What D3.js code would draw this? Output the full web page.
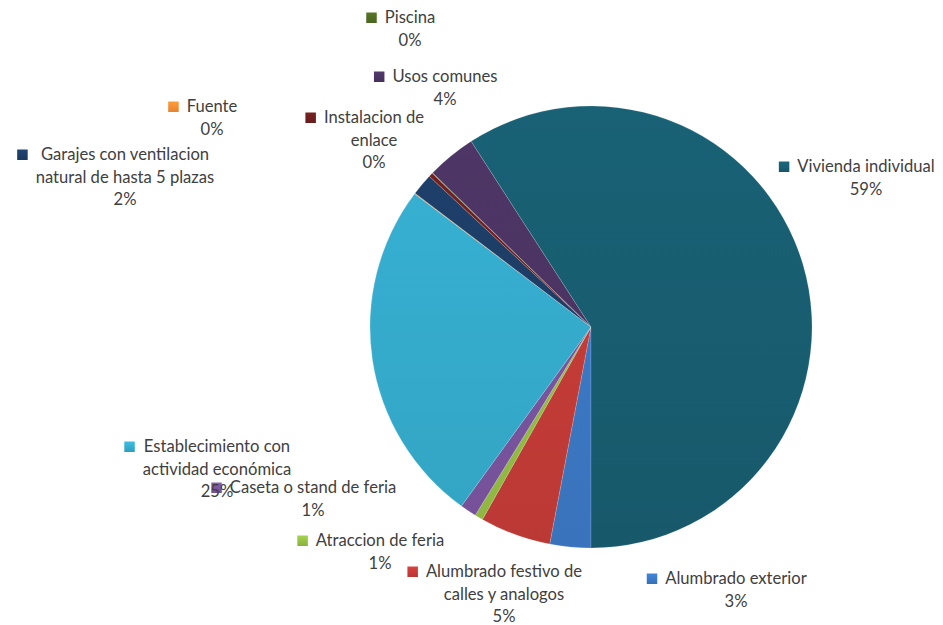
<!DOCTYPE html>
<html>
<head>
<meta charset="utf-8">
<script src="https://cdn.jsdelivr.net/npm/d3@7"></script>
<style>
  html, body { margin: 0; padding: 0; background: #fff; }
  svg { display: block; }
  text { font-family: Lato, "Open Sans", sans-serif; fill: #404040; }
</style>
</head>
<body>
<svg id="chart" width="943" height="625"></svg>
<script>
// ---- data ----
const categories = [
  "Alumbrado exterior",
  "Alumbrado festivo de calles y analogos",
  "Atraccion de feria",
  "Caseta o stand de feria",
  "Establecimiento con actividad económica",
  "Fuente",
  "Garajes con ventilacion natural de hasta 5 plazas",
  "Instalacion de enlace",
  "Piscina",
  "Usos comunes",
  "Vivienda individual"
];
const values = [3.0, 5.2, 0.6, 1.2, 25.4, 0.05, 1.6, 0.3, 0.05, 3.6, 59.3];
const colors = ["#3b78c3", "#c33b37", "#94be44", "#7a55a0", "#35abcc", "#f68d35",
                "#1d3d66", "#6e1e1e", "#4e6b22", "#4b3462", "#185d70"];

// ---- layout (label wrapping and positions, as Excel placed them) ----
const labelLines = [
  ["Alumbrado exterior"],
  ["Alumbrado festivo de", "calles y analogos"],
  ["Atraccion de feria"],
  ["Caseta o stand de feria"],
  ["Establecimiento con", "actividad económica"],
  ["Fuente"],
  ["Garajes con ventilacion", "natural de hasta 5 plazas"],
  ["Instalacion de", "enlace"],
  ["Piscina"],
  ["Usos comunes"],
  ["Vivienda individual"]
];
const labelAnchors = [
  [736, 584], [504, 577], [380, 546], [313, 493], [217, 452], [212, 112],
  [125, 160], [374, 123], [410, 23], [445, 82], [866, 172]
];

const cx = 591, cy = 327, R = 221;
const lineH = 22.7;
const fontSize = 16.6;

const svg = d3.select("#chart");
const defs = svg.append("defs");

colors.forEach((c, i) => {
  const g = defs.append("linearGradient")
    .attr("id", "grad" + i)
    .attr("gradientUnits", "userSpaceOnUse")
    .attr("x1", 0).attr("y1", -R).attr("x2", 0).attr("y2", R);
  g.append("stop").attr("offset", "0%").attr("stop-color", d3.color(c).brighter(0.12));
  g.append("stop").attr("offset", "100%").attr("stop-color", d3.color(c).darker(0.12));
  const k = defs.append("linearGradient")
    .attr("id", "kgrad" + i)
    .attr("x1", 0).attr("y1", 0).attr("x2", 0).attr("y2", 1);
  k.append("stop").attr("offset", "0%").attr("stop-color", d3.color(c).brighter(0.3));
  k.append("stop").attr("offset", "100%").attr("stop-color", d3.color(c).darker(0.2));
});

const total = d3.sum(values);
const pie = d3.pie().sort(null).value(d => d)
  .startAngle(Math.PI).endAngle(3 * Math.PI);
const arcs = pie(values);
const arc = d3.arc().innerRadius(0).outerRadius(R);

const g = svg.append("g").attr("transform", `translate(${cx},${cy})`);
g.selectAll("path.slice")
  .data(arcs)
  .join("path")
  .attr("class", "slice")
  .attr("d", arc)
  .attr("fill", (d, i) => `url(#grad${i})`)
  .attr("stroke", "rgba(255,255,255,0.3)")
  .attr("stroke-width", 0.5);

// ---- labels ----
const fmt = v => Math.round(v / total * 100) + "%";
const labels = svg.append("g");
categories.forEach((cat, i) => {
  const [lx, ly] = labelAnchors[i];
  const lines = labelLines[i].concat([fmt(values[i])]);
  const lg = labels.append("g");
  const t = lg.append("text")
    .attr("text-anchor", "middle")
    .attr("font-size", fontSize);
  lines.forEach((ln, j) => {
    t.append("tspan").attr("x", lx).attr("y", ly + j * lineH).text(ln);
  });
  let maxW = 0;
  t.selectAll("tspan").each(function() {
    maxW = Math.max(maxW, this.getComputedTextLength());
  });
  const ks = 10.5;
  lg.append("rect")
    .attr("x", lx - maxW / 2 - 8 - ks)
    .attr("y", ly - 10.5)
    .attr("width", ks).attr("height", ks)
    .attr("fill", `url(#kgrad${i})`);
});
</script>
</body>
</html>
